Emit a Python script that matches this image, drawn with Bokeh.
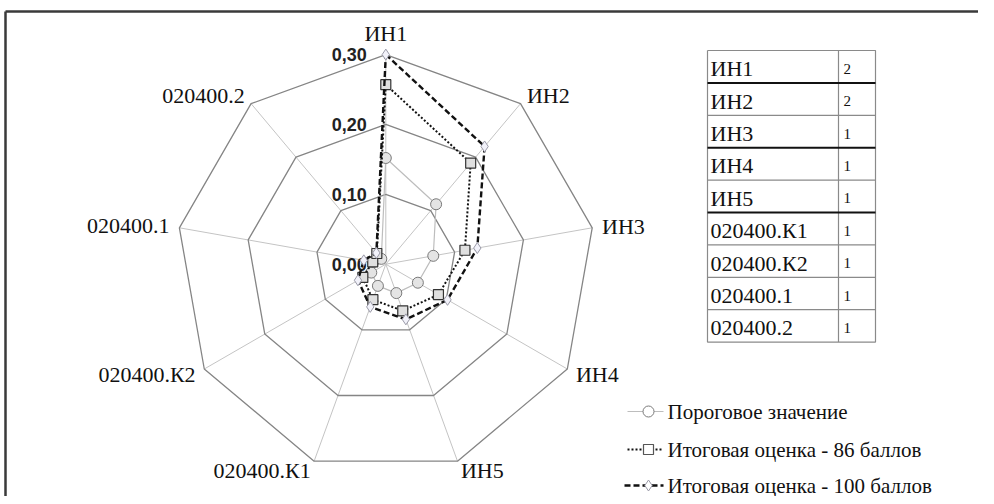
import math
from bokeh.plotting import figure
from bokeh.models import Range1d
from bokeh.core.properties import value
from bokeh.embed import file_html
from bokeh.resources import INLINE

# ---------------- data ----------------
categories = ["ИН1", "ИН2", "ИН3", "ИН4", "ИН5", "020400.К1", "020400.К2", "020400.1", "020400.2"]
threshold = [0.152, 0.112, 0.069, 0.053, 0.044, 0.033, 0.024, 0.018, 0.010]
score_86 = [0.257, 0.189, 0.115, 0.087, 0.071, 0.054, 0.038, 0.019, 0.020]
score_100 = [0.300, 0.220, 0.133, 0.102, 0.084, 0.065, 0.046, 0.032, 0.021]
ring_levels = [0.10, 0.20, 0.30]
tick_levels = [0.00, 0.10, 0.20, 0.30]
tick_labels = ["0,00", "0,10", "0,20", "0,30"]
table_names = ["ИН1", "ИН2", "ИН3", "ИН4", "ИН5", "020400.К1", "020400.К2", "020400.1", "020400.2"]
table_weights = ["2", "2", "1", "1", "1", "1", "1", "1", "1"]
legend_labels = ["Пороговое значение", "Итоговая оценка - 86 баллов", "Итоговая оценка - 100 баллов"]

# ---------------- geometry ----------------
W, H = 978, 496
CX, CY = 385.3, 263.7
RMAX = 0.30
RPIX = 209.6
K = RPIX / RMAX
n = len(categories)
angles = [2 * math.pi * i / n for i in range(n)]

def px(v, a):
    return CX + v * K * math.sin(a)

def py(v, a):
    return CY - v * K * math.cos(a)

SERIF = value("serif")

p = figure(width=W, height=H, output_backend="svg", toolbar_location=None,
           x_range=Range1d(0, W), y_range=Range1d(H, 0),
           x_axis_type=None, y_axis_type=None, min_border=0)
p.grid.visible = False
p.outline_line_color = None
p.background_fill_color = "white"
p.border_fill_color = "white"

# outer frame (top and left visible)
p.line([5, W], [11, 11], line_color="#3a3a3a", line_width=2.5)
p.line([5, 5], [11, H], line_color="#3a3a3a", line_width=2.5)

# spokes
p.segment([CX] * n, [CY] * n, [px(RMAX, a) for a in angles], [py(RMAX, a) for a in angles],
          line_color="#c4c4c4", line_width=1)

# rings
for lv in ring_levels:
    xs = [px(lv, a) for a in angles] + [px(lv, angles[0])]
    ys = [py(lv, a) for a in angles] + [py(lv, angles[0])]
    p.line(xs, ys, line_color="#858585", line_width=1.3)

# value tick labels
p.text([CX - 19] * len(tick_levels), [CY - lv * K for lv in tick_levels], text=tick_labels,
       text_align="right", text_baseline="middle", text_font=value("Liberation Sans"),
       text_font_style="bold", text_font_size="18px", text_color="#222222")

# category labels
for a, name in zip(angles, categories):
    vx, vy = px(RMAX, a), py(RMAX, a)
    d = 10
    lx, ly = vx + d * math.sin(a), vy - d * math.cos(a)
    s = math.sin(a)
    if abs(s) < 1e-6:
        align = "center"
        ly = vy - 21
    elif s > 0:
        align = "left"
    else:
        align = "right"
    p.text([lx], [ly], text=[name], text_align=align, text_baseline="middle",
           text_font=SERIF, text_font_size="22px", text_color="#111111")

def closed(vals):
    xs = [px(v, a) for v, a in zip(vals, angles)]
    ys = [py(v, a) for v, a in zip(vals, angles)]
    return xs + [xs[0]], ys + [ys[0]], xs, ys

# series 1: threshold
xs, ys, mx, my = closed(threshold)
p.line(xs, ys, line_color="#bdbdbd", line_width=1.2)
p.scatter(mx, my, marker="circle", size=11, fill_color="#e4e4e4", line_color="#7a7a7a", line_width=1)

# series 2: 86
xs, ys, mx, my = closed(score_86)
p.line(xs, ys, line_color="#111111", line_width=2, line_dash="2 2")
p.scatter(mx, my, marker="square", size=10, fill_color="#e0e0e0", line_color="#333333", line_width=1.2)

# series 3: 100
xs, ys, mx, my = closed(score_100)
p.line(xs, ys, line_color="#111111", line_width=2.4, line_dash="6 3")
p.scatter(mx, my, marker="diamond", size=11, fill_color="#f2f2fa", line_color="#9a9aa8", line_width=1)

# table
tx0, tx1, tx2 = 707, 838, 875
ttop, rh = 50, 32.4
nrows = len(table_names)
tbot = ttop + rh * nrows
p.line([tx0, tx2, tx2, tx0, tx0], [ttop, ttop, tbot, tbot, ttop], line_color="#8a8a8a", line_width=1.2)
p.line([tx1, tx1], [ttop, tbot], line_color="#8a8a8a", line_width=1.2)
for i in range(1, nrows):
    yy = ttop + rh * i
    dark = i in (1, 3, 5)
    p.line([tx0, tx2], [yy, yy], line_color="#111111" if dark else "#8a8a8a",
           line_width=2 if dark else 1.2)
p.text([tx0 + 3] * nrows, [ttop + rh * (i + 0.5) + 2 for i in range(nrows)], text=table_names,
       text_align="left", text_baseline="middle", text_font=SERIF, text_font_size="22px",
       text_color="#111111")
p.text([tx1 + 5] * nrows, [ttop + rh * (i + 0.5) + 2 for i in range(nrows)], text=table_weights,
       text_align="left", text_baseline="middle", text_font=SERIF, text_font_size="15px",
       text_color="#111111")

# legend
lx0, lx1, lmx = 627, 663, 648
ly = [411, 449, 485]
p.line([lx0, lx1], [ly[0], ly[0]], line_color="#bdbdbd", line_width=1.2)
p.scatter([lmx], [ly[0]], marker="circle", size=11, fill_color="#ffffff", line_color="#7a7a7a", line_width=1)
p.line([lx0, lx1], [ly[1], ly[1]], line_color="#111111", line_width=2, line_dash="2 2")
p.scatter([lmx], [ly[1]], marker="square", size=10, fill_color="#ffffff", line_color="#555555", line_width=1.2)
p.line([lx0 - 3, lx1], [ly[2], ly[2]], line_color="#111111", line_width=2.4, line_dash="6 3")
p.scatter([lmx], [ly[2]], marker="diamond", size=11, fill_color="#ffffff", line_color="#9a9aa8", line_width=1)
p.text([667] * 3, ly, text=legend_labels, text_align="left", text_baseline="middle",
       text_font=SERIF, text_font_size="21px", text_color="#111111")

open("out.html", "w").write(file_html(p, INLINE))
